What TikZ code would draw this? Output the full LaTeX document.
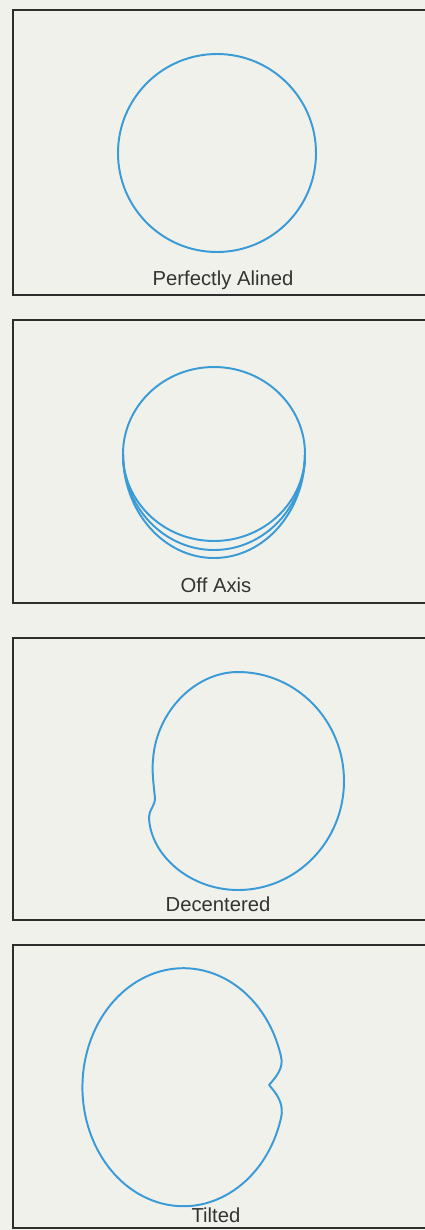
\documentclass[tikz,border=0pt]{standalone}
\usepackage{fontspec}
\setmainfont{Liberation Sans}
\usepackage{tikz}
\definecolor{PaperGray}{HTML}{F1F1EC}
\definecolor{FrameGray}{HTML}{2E2E2C}
\definecolor{TraceBlue}{HTML}{3A9BD6}
\definecolor{CaptionGray}{HTML}{333333}

\begin{document}
\begin{tikzpicture}[x=0.025cm, y=-0.025cm, every node/.style={font=\fontsize{14.4}{17}\selectfont, text=CaptionGray}]
  \tikzstyle{panel}=[draw=FrameGray, line width=1.8pt]
  \tikzstyle{trace}=[draw=TraceBlue, line width=1.4pt, line join=round]
  \useasboundingbox (0,0) rectangle (425,1230);
  \fill[PaperGray] (0,0) rectangle (425,1230);
  \clip (0,0) rectangle (425,1230);
  % frames
  \draw[panel] (13,10) rectangle (432,295);
  \draw[panel] (13,320) rectangle (432,603);
  \draw[panel] (13,638) rectangle (432,920);
  \draw[panel] (13,945) rectangle (432,1228);
  % perfectly alined
  \draw[trace] (217,153) circle [radius=99];
  \node (aligned) at (223,280) {Perfectly Alined};
  % off axis
  \draw[trace] (214,454) ellipse [x radius=91, y radius=87];
  \draw[trace] (123,454) arc [start angle=180, end angle=0, x radius=91, y radius=96];
  \draw[trace] (123,454) arc [start angle=180, end angle=0, x radius=91, y radius=104];
  \node (offaxis) at (216,585) {Off Axis};
  % decentered
  \draw[trace] (238,672) arc [start angle=-90, end angle=90, x radius=106, y radius=109]
    .. controls (190,890) and (150,855) .. (149,817)
    .. controls (149,810) and (155,806) .. (155,798)
    .. controls (153,780) and (152,770) .. (153,760)
    .. controls (156,712) and (195,672) .. (238,672) -- cycle;
  \node (decentered) at (218,904) {Decentered};
  % tilted
  \draw[trace] (269,1085) .. controls (276,1093) and (284.5,1103) .. (281,1118)
    arc [start angle=15, end angle=345, x radius=101, y radius=119]
    .. controls (284,1068) and (276,1077) .. (269,1085) -- cycle;
  \node (tilted) at (216,1215) {Tilted};
\end{tikzpicture}
\end{document}
